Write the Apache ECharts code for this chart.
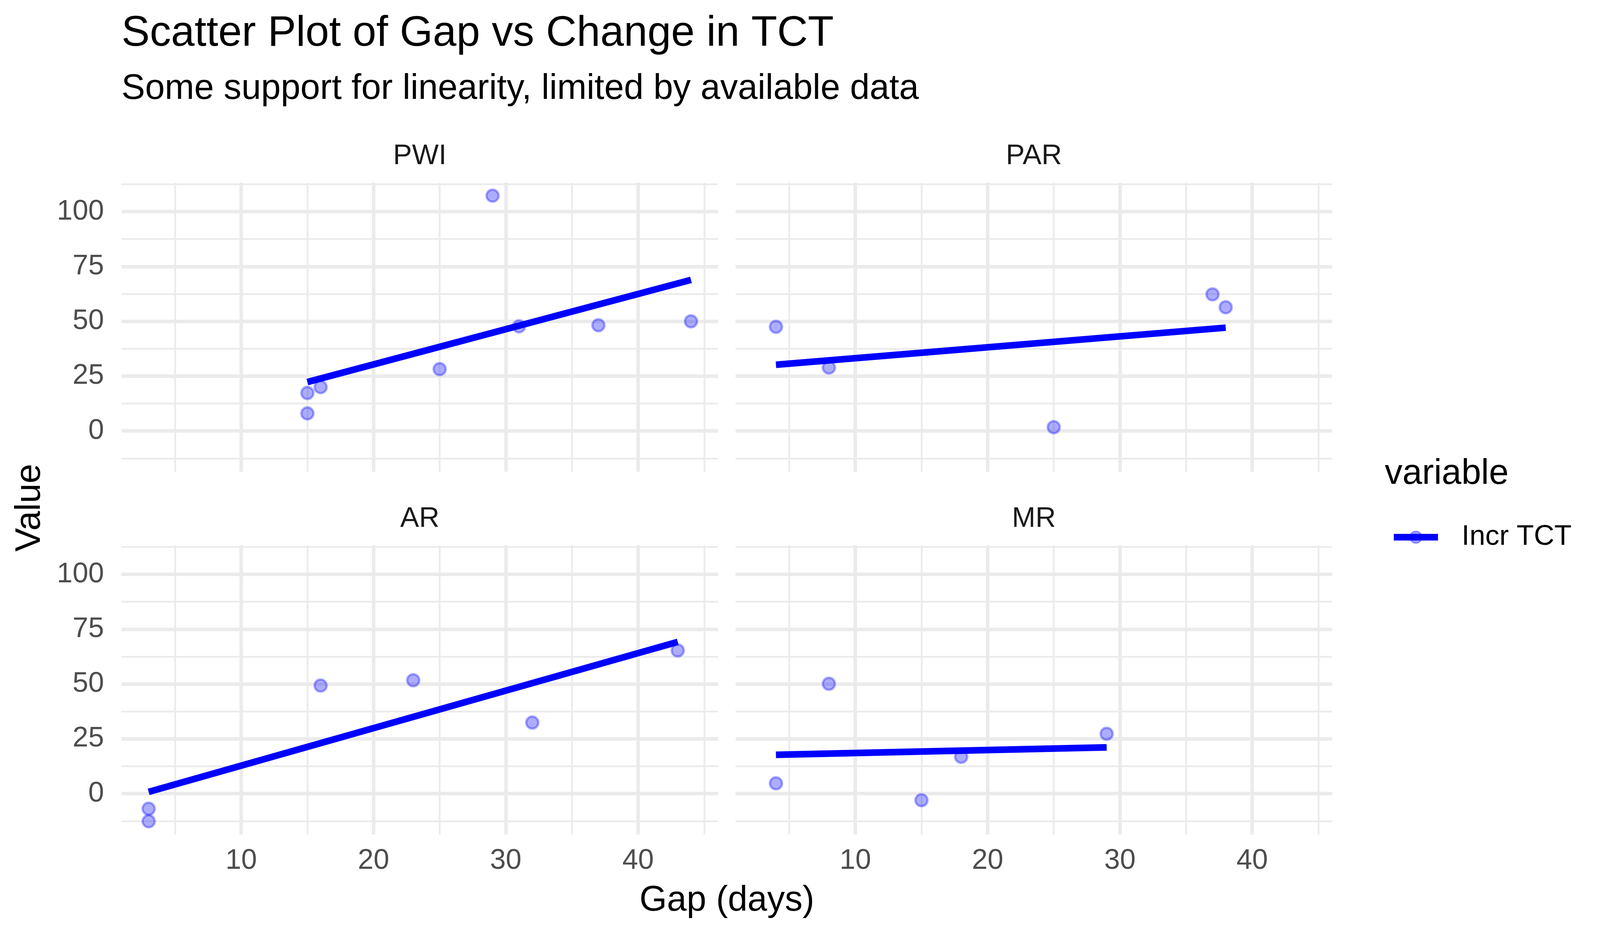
<!DOCTYPE html>
<html><head><meta charset="utf-8">
<script src="https://cdn.jsdelivr.net/npm/echarts@6/dist/echarts.min.js"></script>
<style>html,body{margin:0;padding:0;background:#fff;overflow:hidden}#c{width:4200px;height:2400px}</style>
</head><body><div id="c"></div>
<script>
// ---- data ----
const panelNames = ['PWI', 'PAR', 'AR', 'MR'];
const gapPWI = [15, 15, 16, 25, 29, 31, 37, 44];
const valPWI = [8.0, 17.3, 20.0, 28.2, 107.3, 47.7, 48.2, 50.0];
const gapPAR = [4, 8, 25, 37, 38];
const valPAR = [47.5, 28.9, 1.7, 62.3, 56.4];
const gapAR = [3, 3, 16, 23, 32, 43];
const valAR = [-6.9, -12.6, 49.3, 51.7, 32.4, 65.3];
const gapMR = [4, 8, 15, 18, 29];
const valMR = [4.7, 50.1, -3.0, 16.8, 27.3];
// fitted line end points
const fitGapPWI = [15, 44];   const fitValPWI = [22.3, 68.9];
const fitGapPAR = [4, 38];    const fitValPAR = [30.2, 47.1];
const fitGapAR = [3, 43];     const fitValAR = [0.8, 69.2];
const fitGapMR = [4, 29];     const fitValMR = [17.7, 21.1];
// axes
const xMajor = [10, 20, 30, 40];
const xMinor = [5, 15, 25, 35, 45];
const yMajor = [0, 25, 50, 75, 100];
const yMinor = [-12.5, 12.5, 37.5, 62.5, 87.5, 112.5];
const xRange = [0.95, 46.05];
const yRange = [-18.6, 113.3];
const seriesName = 'Incr TCT';

const pts = [[gapPWI, valPWI], [gapPAR, valPAR], [gapAR, valAR], [gapMR, valMR]];
const fits = [[fitGapPWI, fitValPWI], [fitGapPAR, fitValPAR], [fitGapAR, fitValAR], [fitGapMR, fitValMR]];
const zip = (a, b) => a.map((v, i) => [v, b[i]]);

// fit the 4200x2400 design into the actual viewport
const W = Math.min(window.innerWidth || 4200, 4200), H = Math.min(window.innerHeight || 2400, 2400);
const el = document.getElementById('c');
el.style.width = W + 'px'; el.style.height = H + 'px';
const kx = W / 4200, ky = H / 2400, kf = (kx + ky) / 2;
const X = v => v * kx, Y = v => v * ky, F = v => v * kf;

const FONT = '"Liberation Sans", Arial, sans-serif';
const BASE = F(91.67), SMALL = F(73.3), TITLE = F(110);
const PL = [X(319), X(1931)], PT = [Y(467), Y(1395)], PW = X(1566), PH = Y(740);

const grids = [], xAxes = [], yAxes = [], series = [];
const ptStyle = { color: 'rgba(0,0,255,0.4)', borderColor: 'rgba(0,0,255,0.4)', borderWidth: 6 };
const majorStyle = { color: '#EBEBEB', width: 9, type: 'solid' };
const minorStyle = { color: '#EBEBEB', width: 4.5, type: 'solid' };

for (let i = 0; i < 4; i++) {
  const col = i % 2, row = Math.floor(i / 2);
  grids.push({ left: PL[col], top: PT[row], width: PW, height: PH, containLabel: false });
  xAxes.push({
    type: 'value', gridIndex: i, min: xRange[0], max: xRange[1],
    axisLine: { show: false }, axisTick: { show: false }, splitLine: { show: false },
    axisLabel: { show: row === 1, customValues: xMajor, fontSize: SMALL, color: '#4D4D4D', margin: Y(32), fontFamily: FONT }
  });
  yAxes.push({
    type: 'value', gridIndex: i, min: yRange[0], max: yRange[1],
    axisLine: { show: false }, axisTick: { show: false }, splitLine: { show: false },
    axisLabel: { show: col === 0, customValues: yMajor, fontSize: SMALL, color: '#4D4D4D', margin: X(46), fontFamily: FONT }
  });
}
for (let i = 0; i < 4; i++) {
  series.push({
    name: seriesName, type: 'line', xAxisIndex: i, yAxisIndex: i,
    data: zip(fits[i][0], fits[i][1]), showSymbol: false, symbol: 'circle', symbolSize: 31,
    lineStyle: { color: '#0000FF', width: 17, cap: 'butt' }, itemStyle: ptStyle,
    z: 4, silent: true, animation: false
  });
}
for (let i = 0; i < 4; i++) {
  series.push({
    name: seriesName, type: 'scatter', xAxisIndex: i, yAxisIndex: i,
    data: zip(pts[i][0], pts[i][1]), symbol: 'circle', symbolSize: 31,
    itemStyle: ptStyle, z: 3, silent: true, animation: false
  });
  const ml = [];
  xMinor.forEach(v => ml.push({ xAxis: v, lineStyle: minorStyle }));
  yMinor.forEach(v => ml.push({ yAxis: v, lineStyle: minorStyle }));
  xMajor.forEach(v => ml.push({ xAxis: v, lineStyle: majorStyle }));
  yMajor.forEach(v => ml.push({ yAxis: v, lineStyle: majorStyle }));
  series.push({
    type: 'line', xAxisIndex: i, yAxisIndex: i, data: [], silent: true, z: 1, animation: false,
    markLine: { silent: true, z: 1, symbol: ['none', 'none'], animation: false, label: { show: false },
      emphasis: { disabled: true }, lineStyle: majorStyle, data: ml }
  });
}

const tStyle = (size, color) => ({ fontSize: size, lineHeight: size, fontWeight: 'normal', color: color, fontFamily: FONT });
const titles = [
  { text: 'Scatter Plot of Gap vs Change in TCT', left: X(319), top: Y(125) - 0.847 * TITLE, padding: 0, textVerticalAlign: 'top', textStyle: tStyle(TITLE, '#000') },
  { text: 'Some support for linearity, limited by available data', left: X(319), top: Y(259) - 0.847 * BASE, padding: 0, textVerticalAlign: 'top', textStyle: tStyle(BASE, '#000') },
  { text: 'Gap (days)', left: X(1908), top: Y(2336) - 0.847 * BASE, padding: 0, textAlign: 'center', textVerticalAlign: 'top', textStyle: tStyle(BASE, '#000') },
  { text: 'variable', left: X(3635), top: Y(1244) - 0.847 * BASE, padding: 0, textVerticalAlign: 'top', textStyle: tStyle(BASE, '#000') }
];
const stripBase = [Y(425), Y(1353)];
for (let i = 0; i < 4; i++) {
  const col = i % 2, row = Math.floor(i / 2);
  titles.push({ text: panelNames[i], left: PL[col] + PW / 2, top: stripBase[row] - 0.847 * SMALL, padding: 0, textAlign: 'center', textVerticalAlign: 'top', textStyle: tStyle(SMALL, '#1A1A1A') });
}

const chart = echarts.init(el, null, { renderer: 'canvas', width: W, height: H });
chart.setOption({
  backgroundColor: '#fff',
  animation: false,
  textStyle: { fontFamily: FONT },
  title: titles,
  grid: grids, xAxis: xAxes, yAxis: yAxes, series: series,
  legend: {
    data: [seriesName], left: X(3650), top: Y(1358) - 19.5, padding: 0, orient: 'vertical',
    itemWidth: X(116), itemHeight: 39, selectedMode: false,
    lineStyle: { width: 17, color: '#0000FF', cap: 'butt' },
    textStyle: { fontSize: SMALL, lineHeight: 39, color: '#000', fontFamily: FONT, padding: [0, 0, 0, X(57)] }
  },
  graphic: [{
    type: 'text', x: X(79), y: Y(1299), rotation: Math.PI / 2, silent: true,
    style: { text: 'Value', fontSize: BASE, fontFamily: FONT, fill: '#000', align: 'center', verticalAlign: 'middle' }
  }]
});
</script></body></html>
